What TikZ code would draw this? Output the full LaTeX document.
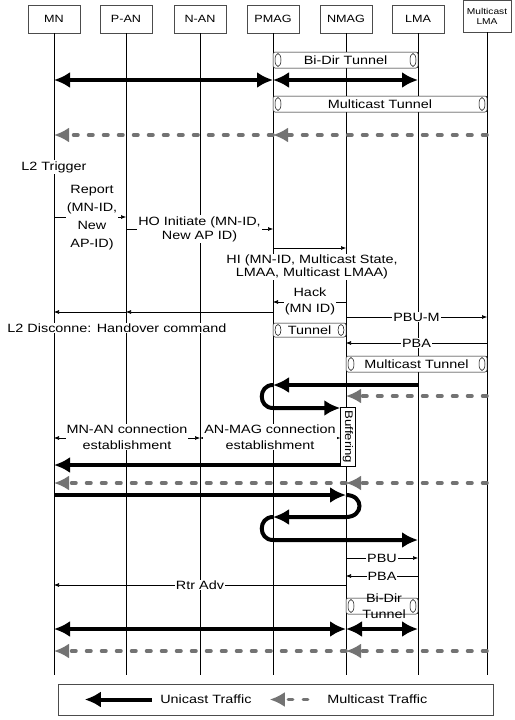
\documentclass[tikz,border=0pt]{standalone}
\usepackage{fontspec}
\setmainfont{Liberation Sans}[FakeStretch=1.2]
\usetikzlibrary{calc}
\usetikzlibrary{arrows.meta}

\tikzset{
 actor/.style={draw=black!70, line width=.5pt, fill=white, minimum width=52pt, minimum height=28pt, font=\fontsize{10.5}{12}\selectfont},
 life/.style={line width=.6pt},
 msg/.style={line width=.6pt, >={Latex[length=5pt,width=4pt]}},
 uni/.style={line width=4pt, >={Latex[length=16pt,width=16pt]}},
 mcast/.style={line width=3.5pt, black!55, dash pattern=on 4.5pt off 10.5pt, line cap=round, >={Latex[length=15pt,width=15pt]}},
 lbl/.style={fill=white, inner sep=1pt, align=center},
 pipeline/.style={line width=.5pt, fill=white, rounded corners=2pt}
}

% tunnel between two lifelines: from, to, top, bottom, text
\newcommand{\pipe}[5]{%
 \pgfmathsetmacro{\pipemid}{(#3+#4)/2}
 \pgfmathsetmacro{\pipery}{(#4-#3)/2-1.5}
 \draw[pipeline] (#1|-0,#3) rectangle (#2|-0,#4);
 \draw[line width=.5pt] ($(#1|-0,\pipemid)+(5,0)$) ellipse[x radius=3, y radius=\pipery];
 \draw[line width=.5pt] ($(#2|-0,\pipemid)+(-5,0)$) ellipse[x radius=3, y radius=\pipery];
 \node[align=center] at ($(#1|-0,\pipemid)!.5!(#2|-0,\pipemid)$) {#5};
}

\begin{document}
\begin{tikzpicture}[x=1pt, y=-1pt, font=\fontsize{12}{14}\selectfont]
\useasboundingbox (0,0) rectangle (514,720);

\foreach \nm/\txt/\x in {mn/MN/54, pan/P-AN/126, nan/N-AN/200, pmag/PMAG/273, nmag/NMAG/346, lma/LMA/418} {
 \node[actor] (\nm) at (\x,19) {\txt};
 \coordinate (\nm-end) at (\x,675);
 \draw[life] (\nm) -- (\nm-end);
}
\node[actor, minimum width=48pt, minimum height=32pt, align=center, font=\fontsize{8.5}{10}\selectfont] (mlma) at (487,16) {Multicast\\LMA};
\coordinate (mlma-end) at (487,675);
\draw[life] (mlma) -- (mlma-end);

% initial state
\pipe{pmag}{lma}{52}{68}{Bi-Dir Tunnel}
\draw[uni,<->] (mn|-0,80) -- (pmag|-0,80);
\draw[uni,<->] (pmag|-0,80) -- (lma|-0,80);
\pipe{pmag}{mlma}{96}{112}{Multicast Tunnel}
\draw[mcast,->] (mlma|-0,135) -- (pmag|-0,135);
\draw[mcast,->] (pmag|-0,135) -- (mn|-0,135);

% handover signalling
\node[lbl] (trig) at (54,167) {L2 Trigger};
\draw[msg,->] (mn|-0,217) -- (pan|-0,217);
\node[lbl, font=\fontsize{12}{18}\selectfont] (rep) at (92,218) {Report\\(MN-ID,\\New\\AP-ID)};
\draw[msg,->] (pan|-0,229) -- node[lbl]{HO Initiate (MN-ID,\\New AP ID)} (pmag|-0,229);
\draw[msg,->] (pmag|-0,248) -- (nmag|-0,248);
\node[lbl, font=\fontsize{12}{12.5}\selectfont] (hi) at (312,267) {HI (MN-ID, Multicast State,\\LMAA, Multicast LMAA)};
\draw[msg,->] (nmag|-0,302) -- (pmag|-0,302);
\node[lbl, font=\fontsize{12}{16}\selectfont] (hack) at (310,301) {Hack\\(MN ID)};
\draw[msg,->] (pmag|-0,312) -- (pan|-0,312);
\draw[msg,->] (pan|-0,312) -- (mn|-0,312);
\node[lbl] (disc) at (117,328) {L2 Disconne: Handover command};
\draw[msg,->] (nmag|-0,317) -- node[lbl]{PBU-M} (mlma|-0,317);
\pipe{pmag}{nmag}{323}{337}{Tunnel}
\draw[msg,->] (mlma|-0,343) -- node[lbl]{PBA} (nmag|-0,343);
\pipe{nmag}{mlma}{356}{372}{Multicast Tunnel}

% forwarding and buffering
\node[draw, fill=white, line width=.5pt, rotate=-90, minimum width=59pt, minimum height=15pt, inner sep=1pt, font=\fontsize{11}{12}\selectfont] (buf) at (348,437) {Buffering};
\draw[uni,->] (lma|-0,385) -- (pmag|-0,385);
\draw[uni,->] (pmag|-0,385) .. controls +(-15,0) and +(-15,0) .. (pmag|-0,408) -- (buf.south|-0,408);
\draw[mcast,->] (mlma|-0,396) -- (nmag|-0,396);
\draw[msg,<->] (mn|-0,438) -- (nan|-0,438);
\node[lbl, font=\fontsize{12}{16}\selectfont] (mnan) at (127,437) {MN-AN connection\\establishment};
\draw[msg,<->] (nan|-0,438) -- (buf.south|-0,438);
\node[lbl, font=\fontsize{12}{16}\selectfont] (anmag) at (270,437) {AN-MAG connection\\establishment};
\draw[uni,->] (buf.south|-0,465) -- (mn|-0,465);
\draw[mcast,->] (mlma|-0,483) -- (nmag|-0,483);
\draw[mcast,->] (nmag|-0,483) -- (mn|-0,483);
\draw[uni,->] (mn|-0,495) -- (nmag|-0,495);
\draw[uni,->] (nmag|-0,495) .. controls +(18,0) and +(18,0) .. (nmag|-0,517) -- (pmag|-0,517);
\draw[uni,->] (pmag|-0,517) .. controls +(-15,0) and +(-15,0) .. (pmag|-0,540) -- (lma|-0,540);

% registration at new MAG
\draw[msg,->] (nmag|-0,558) -- node[lbl]{PBU} (lma|-0,558);
\draw[msg,->] (lma|-0,576) -- node[lbl]{PBA} (nmag|-0,576);
\draw[msg,->] (nmag|-0,585) -- node[lbl]{Rtr Adv} (mn|-0,585);
\pipe{nmag}{lma}{598}{614}{}
\node[align=center, font=\fontsize{12}{16}\selectfont] (bidir) at (384,606) {Bi-Dir\\Tunnel};
\draw[uni,<->] (mn|-0,629) -- (nmag|-0,629);
\draw[uni,<->] (nmag|-0,629) -- (lma|-0,629);
\draw[mcast,->] (mlma|-0,651) -- (nmag|-0,651);
\draw[mcast,->] (nmag|-0,651) -- (mn|-0,651);

% legend
\node[draw=black!70, line width=.5pt, minimum width=435pt, minimum height=31pt] (legend) at (275.5,699.5) {};
\draw[uni,->] ($(legend.west)+(94,0)$) -- ($(legend.west)+(27,0)$);
\node[right] (unitxt) at ($(legend.west)+(99,0)$) {Unicast Traffic};
\draw[mcast,->] ($(legend.west)+(250,0)$) -- ($(legend.west)+(212,0)$);
\node[right] (mctxt) at ($(legend.west)+(266,0)$) {Multicast Traffic};
\end{tikzpicture}
\end{document}
